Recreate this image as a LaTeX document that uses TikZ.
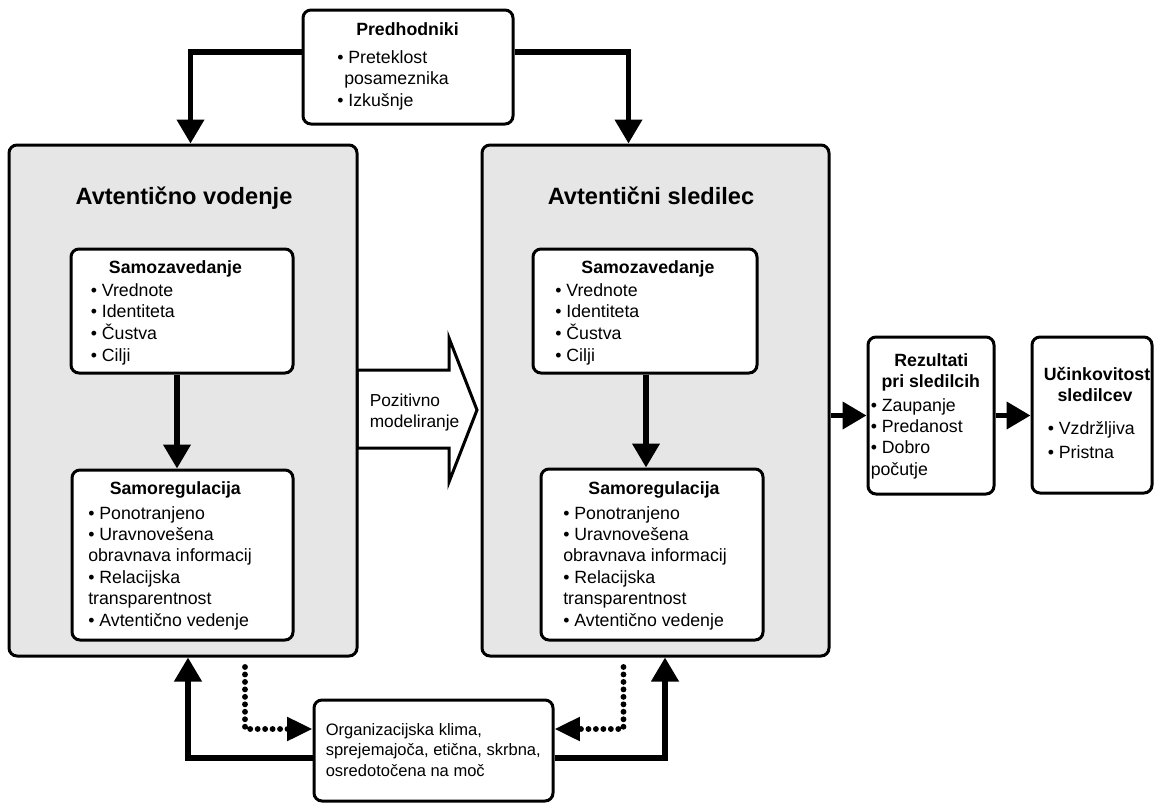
\documentclass[tikz,border=0pt]{standalone}
\usepackage{fontspec}
\setmainfont{Liberation Sans}
\usetikzlibrary{arrows.meta,fit,calc}
\definecolor{boxgray}{HTML}{E6E6E6}
\newcommand\txtblock[1]{\begin{tabular}[t]{@{}l@{}}#1\end{tabular}}
\newcommand\bodyfont{\fontsize{13.3pt}{16.1pt}\selectfont}
\newcommand\orgfont{\fontsize{12.4pt}{15.6pt}\selectfont}
\newcommand\headfont{\fontsize{13.3pt}{16.1pt}\selectfont\bfseries}
\newcommand\bigfont{\fontsize{17.7pt}{21pt}\selectfont\bfseries}
\begin{document}
\begin{tikzpicture}[x=0.75pt,y=-0.75pt,
  box/.style={draw, line width=2.25pt, rounded corners=6pt, fill=white, inner sep=0pt},
  bigbox/.style={box, fill=boxgray},
  txt/.style={anchor=base west, inner sep=0pt, font=\bodyfont},
  ttl/.style={anchor=base, inner sep=0pt, font=\headfont},
  bigttl/.style={anchor=base, inner sep=0pt, font=\bigfont},
  conn/.style={line width=3.9pt, -{Triangle[width=20pt,length=18pt]}},
  dotconn/.style={line width=4.4pt, line cap=round, dash pattern=on 0pt off 5.6pt, -{Triangle[width=17pt,length=19pt]}}]
\useasboundingbox (0,0) rectangle (1154,803);

% positive modelling block arrow
\draw[line width=2.25pt, fill=white, line join=miter] (357,370) -- (449,370) -- (449,338) -- (477,410) -- (449,482) -- (449,448) -- (357,448) -- cycle;

% boxes
\node[box, fit={(303,10) (513,124)}] (pred) {};
\node[bigbox, fit={(9,145) (357,656)}] (lbox) {};
\node[bigbox, fit={(482,145) (829,656)}] (rbox) {};
\node[box, fit={(71,249) (293,373)}] (lsz) {};
\node[box, fit={(72,470) (293,640)}] (lsr) {};
\node[box, fit={(533,249) (757,373)}] (rsz) {};
\node[box, fit={(541,469) (763,640)}] (rsr) {};
\node[box, fit={(868,337) (994,494)}] (rez) {};
\node[box, fit={(1032,337) (1152,493)}] (uc) {};
\node[box, fit={(314,700) (553,801)}] (org) {};

% texts
\node[ttl] (predT) at (407.5,36) {Predhodniki};
\node[txt] (predB) at (337,63.5) {\txtblock{• Preteklost\\\hspace*{5.25pt}posameznika\\• Izkušnje}};

\node[bigttl] (lT) at (184,204) {Avtentično vodenje};
\node[bigttl] (rT) at (651,204.5) {Avtentični sledilec};

\node[ttl] (lszT) at (175.5,273.5) {Samozavedanje};
\node[txt] (lszB) at (90.5,296.5) {\txtblock{• Vrednote\\• Identiteta\\• Čustva\\• Cilji}};
\node[ttl] (lsrT) at (175.3,494) {Samoregulacija};
\node[txt] (lsrB) at (88,519) {\txtblock{• Ponotranjeno\\• Uravnovešena\\obravnava informacij\\• Relacijska\\transparentnost\\• Avtentično vedenje}};

\node[ttl] (rszT) at (648,273.5) {Samozavedanje};
\node[txt] (rszB) at (555,296.5) {\txtblock{• Vrednote\\• Identiteta\\• Čustva\\• Cilji}};
\node[ttl] (rsrT) at (654,494) {Samoregulacija};
\node[txt] (rsrB) at (563,519) {\txtblock{• Ponotranjeno\\• Uravnovešena\\obravnava informacij\\• Relacijska\\transparentnost\\• Avtentično vedenje}};

\node[txt, font=\fontsize{13pt}{15.75pt}\selectfont] (pozT) at (369.5,406) {\txtblock{Pozitivno\\modeliranje}};

\node[ttl] (rezT1) at (931.3,366) {Rezultati};
\node[ttl] (rezT2) at (930.8,387.5) {pri sledilcih};
\node[txt] (rezB) at (870.5,411) {\txtblock{• Zaupanje\\• Predanost\\• Dobro\\počutje}};

\node[ttl] (ucT1) at (1097,380) {Učinkovitost};
\node[ttl] (ucT2) at (1095,401) {sledilcev};
\node[txt, font=\fontsize{13.3pt}{18pt}\selectfont] (ucB) at (1047.5,434) {\txtblock{• Vzdržljiva\\• Pristna}};

\node[txt, font=\orgfont] (orgB) at (325.5,735) {\txtblock{Organizacijska klima,\\sprejemajoča, etična, skrbna,\\osredotočena na moč}};

% connectors
\coordinate (pl) at (190.5,52);
\coordinate (pr) at (628.5,52);
\draw[conn] (pred.west |- pl) -- (pl) -- (pl |- lbox.north);
\draw[conn] (pred.east |- pr) -- (pr) -- (pr |- rbox.north);

\coordinate (la) at (177,0);
\draw[conn] (lsz.south -| la) -- (lsr.north -| la);
\coordinate (ra) at (646,0);
\draw[conn] (rsz.south -| ra) -- (rsr.north -| ra);

\draw[conn] (rbox.east |- rez.west) -- (rez.west);
\draw[conn] (rez.east) -- (uc.west |- rez.east);

\coordinate (bl) at (188,758);
\coordinate (br) at (665,758);
\draw[conn] (org.west |- bl) -- (bl) -- (bl |- lbox.south);
\draw[conn] (org.east |- br) -- (br) -- (br |- rbox.south);

\coordinate (dlt) at (245,667);
\coordinate (dlc) at (245,729);
\coordinate (drt) at (623.5,667);
\coordinate (drc) at (623.5,729);
\draw[dotconn] (dlt) -- (dlc) -- (dlc -| org.west);
\draw[dotconn] (drt) -- (drc) -- (drc -| org.east);
\end{tikzpicture}
\end{document}
